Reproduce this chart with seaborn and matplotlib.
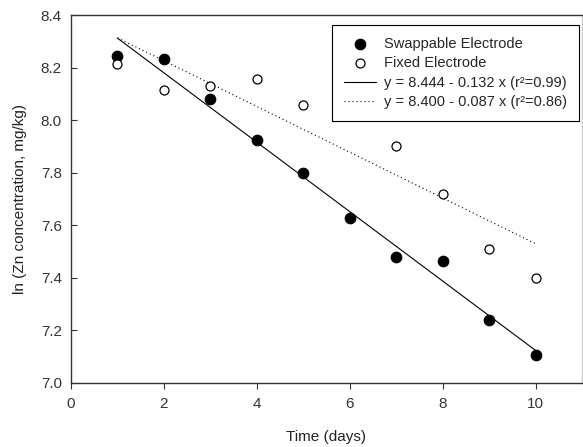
import matplotlib
matplotlib.use("Agg")
import matplotlib.pyplot as plt
import numpy as np
import pandas as pd
import seaborn as sns

# Measured ln(Zn) values per day
days_swap = [1, 2, 3, 4, 5, 6, 7, 8, 9, 10]
ln_zn_swap = [8.245, 8.233, 8.08, 7.924, 7.80, 7.628, 7.48, 7.464, 7.24, 7.107]

days_fixed = [1, 2, 3, 4, 5, 7, 8, 9, 10]
ln_zn_fixed = [8.215, 8.113, 8.13, 8.155, 8.058, 7.90, 7.72, 7.51, 7.40]

# Linear fit coefficients (intercept, slope, r^2)
fit_swap = (8.444, -0.132, 0.99)
fit_fixed = (8.400, -0.087, 0.86)

labels = ["Swappable Electrode", "Fixed Electrode"]

sns.set_theme(style="ticks")
plt.rcParams["font.family"] = ["Liberation Sans", "DejaVu Sans"]
plt.rcParams["font.size"] = 11

fig = plt.figure(figsize=(5.83, 4.47), dpi=100)
ax = fig.add_axes([71 / 583, 1 - 383 / 447, 511 / 583, 368 / 447])

df_swap = pd.DataFrame({"day": days_swap, "ln": ln_zn_swap})
df_fixed = pd.DataFrame({"day": days_fixed, "ln": ln_zn_fixed})

sns.scatterplot(data=df_swap, x="day", y="ln", ax=ax, s=58, color="black",
                edgecolor="black", linewidth=0.8, label=labels[0], zorder=3)
sns.scatterplot(data=df_fixed, x="day", y="ln", ax=ax, s=42, facecolor="white",
                edgecolor="black", linewidth=0.9, label=labels[1], zorder=3)

xs = np.array([1.0, 10.0])
for (b0, b1, r2), ls in [(fit_swap, "-"), (fit_fixed, (0, (1, 2.6)))]:
    line_df = pd.DataFrame({"day": xs, "ln": b0 + b1 * xs})
    sns.lineplot(data=line_df, x="day", y="ln", ax=ax, color="black",
                 linewidth=0.8, linestyle=ls,
                 label=f"y = {b0:.3f} - {abs(b1):.3f} x (r²={r2:.2f})", zorder=2)

ax.set_xlim(0, 11)
ax.set_ylim(7.0, 8.4)
ax.set_xticks([0, 2, 4, 6, 8, 10])
yt = np.arange(7.0, 8.41, 0.2)
ax.set_yticks(yt)
ax.set_yticklabels([f"{v:.1f}" for v in yt])
ax.set_xlabel("Time (days)", fontsize=11, color="#222222", labelpad=14)
ax.set_ylabel("ln (Zn concentration, mg/kg)", fontsize=11, color="#222222", labelpad=10)
ax.tick_params(axis="x", direction="out", length=4, width=0.8,
               labelsize=11, colors="#333333", pad=6)
ax.tick_params(axis="y", direction="in", length=4, width=0.8,
               labelsize=11, colors="#333333", pad=6.5)

for side in ["left", "bottom", "top"]:
    ax.spines[side].set_color("#333333")
    ax.spines[side].set_linewidth(1.0)
ax.spines["right"].set_color("#cccccc")
ax.spines["right"].set_linewidth(1.0)

leg = ax.legend(loc="upper right", bbox_to_anchor=(0.994, 0.973), fontsize=10.5,
                frameon=True, fancybox=False, framealpha=1, edgecolor="black",
                labelspacing=0.38, handlelength=2.2, handletextpad=0.55,
                borderpad=0.8, borderaxespad=0)
leg.get_frame().set_linewidth(0.8)

fig.savefig("out.png", dpi=100)
